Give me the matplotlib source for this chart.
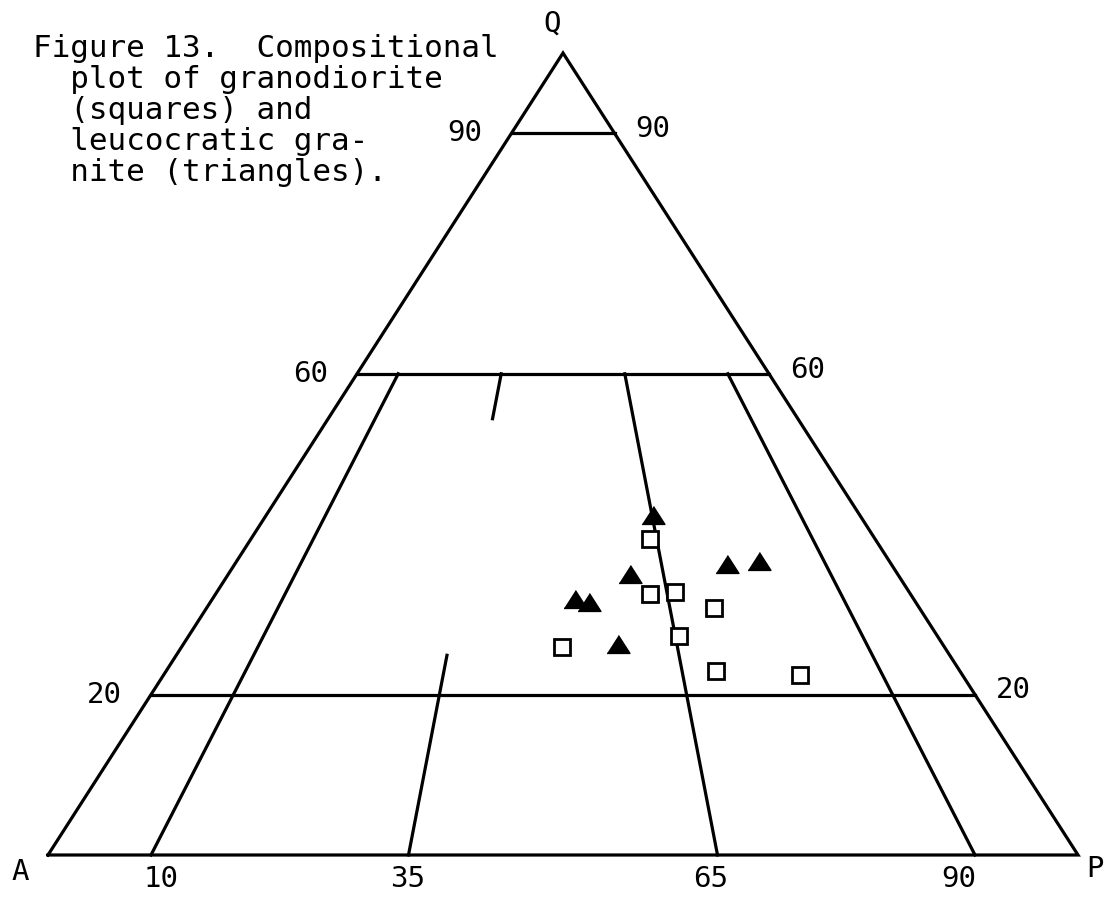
from matplotlib import pyplot as plt
import numpy as np

# modal compositions in percent (Q = quartz, A = alkali feldspar, P = plagioclase)
granodiorite_q = [39.4, 32.6, 32.8, 30.8, 27.3, 25.9, 22.9, 22.4]
granodiorite_a = [21.9, 25.3, 22.7, 19.9, 25.1, 37.1, 23.7, 15.8]
granodiorite_p = [38.7, 42.1, 44.5, 49.3, 47.6, 37.0, 53.4, 61.8]

granite_q = [42.4, 36.3, 36.6, 35.0, 31.9, 31.6, 26.3]
granite_a = [20.1, 15.9, 12.7, 26.0, 32.9, 31.7, 31.5]
granite_p = [37.5, 47.8, 50.7, 39.0, 35.2, 36.7, 42.2]

# field boundaries
q_levels = [90, 60, 20]
ratio_ticks = [10, 35, 65, 90]          # 100*P/(A+P)
ratio_spans = {10: [(0, 60)], 35: [(0, 24.9), (54.4, 60)],
               65: [(0, 60)], 90: [(0, 60)]}

H = 802 / 1030   # height of the triangle relative to its base
LW = 2.3
FONT = 'DejaVu Sans Mono'


def to_xy(q, a, p):
    q, a, p = [np.asarray(v, dtype=float) for v in (q, a, p)]
    tot = q + a + p
    q, p = q / tot, p / tot
    return p + q / 2, q * H


def radial(r, q):
    # point on the line from the Q apex through A:P ratio r, at quartz fraction q
    return q * 0.5 + (1 - q) * r, q * H


fig = plt.figure(figsize=(11.1, 8.97), dpi=100)
ax = fig.add_axes([0, 0, 1, 1])
ax.set_xlim(-48 / 1030, 1062 / 1030)
ax.set_ylim(-42 / 1030, 855 / 1030)
ax.axis('off')

# outline
ax.plot([0, 1, 0.5, 0], [0, 0, H, 0], color='black', lw=LW,
        solid_joinstyle='miter')

# horizontal quartz lines and their labels
for q in q_levels:
    f = q / 100
    ax.plot([f / 2, 1 - f / 2], [f * H, f * H], color='black', lw=LW)
    ax.annotate(str(q), (f / 2, f * H), xytext=(-21, 0),
                textcoords='offset points', ha='right', va='center',
                fontsize=21, family=FONT)
    ax.annotate(str(q), (1 - f / 2, f * H), xytext=(15, 3),
                textcoords='offset points', ha='left', va='center',
                fontsize=21, family=FONT)

# radial A:P lines
label_shift = [7, -1, -5, -12]
for r, dx in zip(ratio_ticks, label_shift):
    for q0, q1 in ratio_spans[r]:
        x0, y0 = radial(r / 100, q0 / 100)
        x1, y1 = radial(r / 100, q1 / 100)
        ax.plot([x0, x1], [y0, y1], color='black', lw=LW)
    ax.annotate(str(r), (r / 100, 0), xytext=(dx, -17),
                textcoords='offset points', ha='center', va='center',
                fontsize=21, family=FONT)

# corner labels
ax.annotate('A', (0, 0), xytext=(-20, -12), textcoords='offset points',
            ha='center', va='center', fontsize=21, family=FONT)
ax.annotate('P', (1, 0), xytext=(12, -10), textcoords='offset points',
            ha='center', va='center', fontsize=21, family=FONT)
ax.annotate('Q', (0.5, H), xytext=(-8, 21), textcoords='offset points',
            ha='center', va='center', fontsize=21, family=FONT)

# samples
tri = [(-1, -0.78), (1, -0.78), (0, 0.78)]
x, y = to_xy(granite_q, granite_a, granite_p)
ax.plot(x, y, ls='none', marker=tri, ms=16.5, mfc='black', mec='black',
        mew=1)
x, y = to_xy(granodiorite_q, granodiorite_a, granodiorite_p)
ax.plot(x, y, ls='none', marker='s', ms=11.8, mfc='white', mec='black',
        mew=2.0)

caption = ["Figure 13.  Compositional",
           "  plot of granodiorite",
           "  (squares) and",
           "  leucocratic gra-",
           "  nite (triangles)."]
for i, line in enumerate(caption):
    fig.text(33 / 1110, 1 - (57 + 31 * i) / 897, line, ha='left',
             va='baseline', fontsize=22.3, family=FONT)

plt.savefig('out.png')
